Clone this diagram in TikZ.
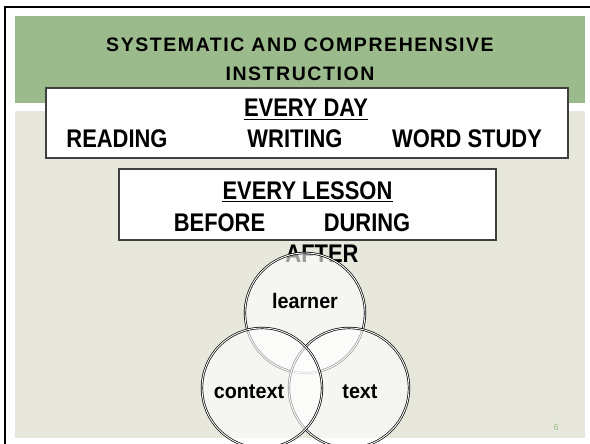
\documentclass[tikz,border=0pt]{standalone}
\usepackage{fontspec}
\setmainfont{Liberation Sans}
\newfontfamily\titlefont{Liberation Sans}[LetterSpace=8]
\newfontfamily\bodyfont{Liberation Sans}[FakeStretch=0.86]
\newfontfamily\labelfont{Liberation Sans}[FakeStretch=0.94]
\definecolor{hdrgreen}{RGB}{155,187,141}
\definecolor{slidebg}{RGB}{232,231,220}
\definecolor{numgreen}{RGB}{150,190,130}
\begin{document}
\begin{tikzpicture}[x=1pt,y=-1pt,
  titletext/.style={inner sep=0, anchor=base, font=\titlefont\bfseries\fontsize{19.5}{22}\selectfont},
  bodytext/.style={inner sep=0, anchor=base, font=\bodyfont\bfseries\fontsize{25.5}{28}\selectfont},
  labeltext/.style={inner sep=0, anchor=base, font=\labelfont\bfseries\fontsize{21}{24}\selectfont},
  textbox/.style={draw=black!75, line width=1.2pt, fill=white},
  venn/.style={circle, minimum size=120pt, inner sep=0, draw=black, double=white, line width=0.7pt, double distance=0.9pt, fill=white, fill opacity=0.6},
  uline/.style={line width=1.6pt}]
\useasboundingbox (0,0) rectangle (590,444);
\fill[white] (0,0) rectangle (590,444);
% frame
\fill[black] (4,6) rectangle (590,8);
\fill[black] (4,6) rectangle (6,444);
% slide areas
\fill[hdrgreen] (15,16) rectangle (585,103);
\fill[slidebg] (15,111) rectangle (585,438);
% title
\node[titletext] (t1) at (300,52) {SYSTEMATIC AND COMPREHENSIVE};
\node[titletext] (t2) at (300,81) {INSTRUCTION};
% every day box
\draw[textbox] (46,88) rectangle (568,158);
\node[bodytext] (ed) at (306,117) {EVERY DAY};
\draw[uline] ([yshift=-2.5pt]ed.base west) -- ([yshift=-2.5pt]ed.base east);
\node[bodytext] (rd) at (117,148) {READING};
\node[bodytext] (wr) at (295,148) {WRITING};
\node[bodytext] (ws) at (467,148) {WORD STUDY};
% every lesson box
\draw[textbox] (119,169) rectangle (496,240);
\node[bodytext] (el) at (307.5,199) {EVERY LESSON};
\draw[uline] ([yshift=-2.5pt]el.base west) -- ([yshift=-2.5pt]el.base east);
\node[bodytext] (bf) at (219.5,231) {BEFORE};
\node[bodytext] (du) at (367,231) {DURING};
\node[bodytext] (af) at (322,262) {AFTER};
% venn circles
\node[venn] (cl) at (305,313) {};
\node[venn] (ct) at (349,388) {};
\node[venn] (cc) at (262,388) {};
\node[labeltext] (ll) at (305,308) {learner};
\node[labeltext] (lc) at (249,398) {context};
\node[labeltext] (lt) at (360,398) {text};
% page number
\node[inner sep=0, font=\fontsize{9}{10}\selectfont, text=numgreen] (pn) at (556,427) {6};
\end{tikzpicture}
\end{document}
